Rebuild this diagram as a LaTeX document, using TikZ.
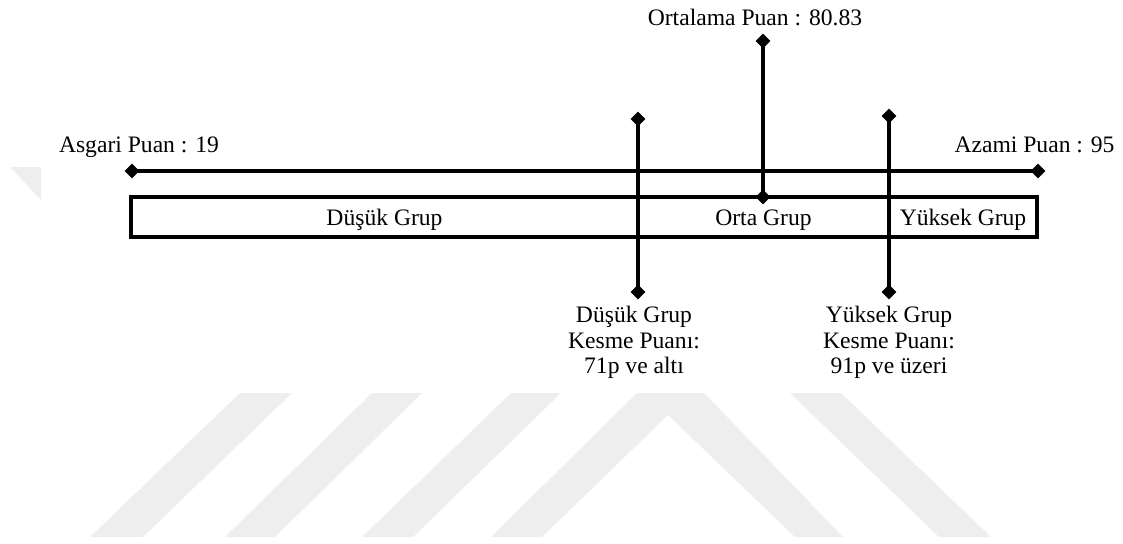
\documentclass[tikz,border=0pt]{standalone}
\usepackage{fontspec}
\setmainfont{Liberation Serif}
\usetikzlibrary{shapes.geometric}
\definecolor{wm}{RGB}{238,238,238}
\tikzset{
  lbl/.style={inner sep=0pt, font=\fontsize{23.6}{25.5}\selectfont},
  dmd/.style={diamond, fill=black, inner sep=0pt, minimum width=15pt, minimum height=15pt},
  ln/.style={line width=3.4pt},
  grp/.style={draw, line width=3.4pt},
  wmark/.style={fill=wm, draw=none}
}
\begin{document}
\begin{tikzpicture}[x=1pt,y=-1pt]
\useasboundingbox (0,0) rectangle (1123,543);
% watermark
\fill[wmark] (240,393) -- (292,393) -- (143,537) -- (90,537) -- cycle;
\fill[wmark] (372,393) -- (422,393) -- (275,537) -- (225,537) -- cycle;
\fill[wmark] (511,393) -- (561,393) -- (413,537) -- (362,537) -- cycle;
\fill[wmark] (637,393) -- (704,393) -- (843,537) -- (795,537) -- (668,415) -- (542,537) -- (491,537) -- cycle;
\fill[wmark] (790,393) -- (841,393) -- (991,537) -- (939,537) -- cycle;
\fill[wmark] (10,167) -- (41,167) -- (41,200) -- cycle;
% box
\draw[grp] (131,197) rectangle (1037,237);
% diamond positions
\coordinate (dL) at (132,171);
\coordinate (dR) at (1038,171);
\coordinate (dMt) at (763,41);
\coordinate (dMb) at (763,197);
\coordinate (dAt) at (638,119);
\coordinate (dAb) at (638,292);
\coordinate (dBt) at (889,116);
\coordinate (dBb) at (889,292);
% lines
\draw[ln] (dL) -- (dR);
\draw[ln] (dMt) -- (dMb);
\draw[ln] (dAt) -- (dAb);
\draw[ln] (dBt) -- (dBb);
% diamonds
\foreach \p in {dL,dR,dMt,dMb,dAt,dAb,dBt,dBb}{
  \node[dmd] (n\p) at (\p) {};
}
% labels
\node[lbl, anchor=base] (asg) at (139,152) {Asgari Puan : 19};
\node[lbl, anchor=base] (aza) at (1034.5,152) {Azami Puan : 95};
\node[lbl, anchor=base] (ort) at (755,26) {Ortalama Puan : 80.83};
\node[lbl, anchor=base] (g1) at (384.5,225) {Düşük Grup};
\node[lbl, anchor=base] (g2) at (763.5,225) {Orta Grup};
\node[lbl, anchor=base] (g3) at (963,225) {Yüksek Grup};
\node[lbl, anchor=north, align=center] (k1) at (634,306) {Düşük Grup\\Kesme Puanı:\\71p ve altı};
\node[lbl, anchor=north, align=center] (k2) at (889,306) {Yüksek Grup\\Kesme Puanı:\\91p ve üzeri};
\end{tikzpicture}
\end{document}
